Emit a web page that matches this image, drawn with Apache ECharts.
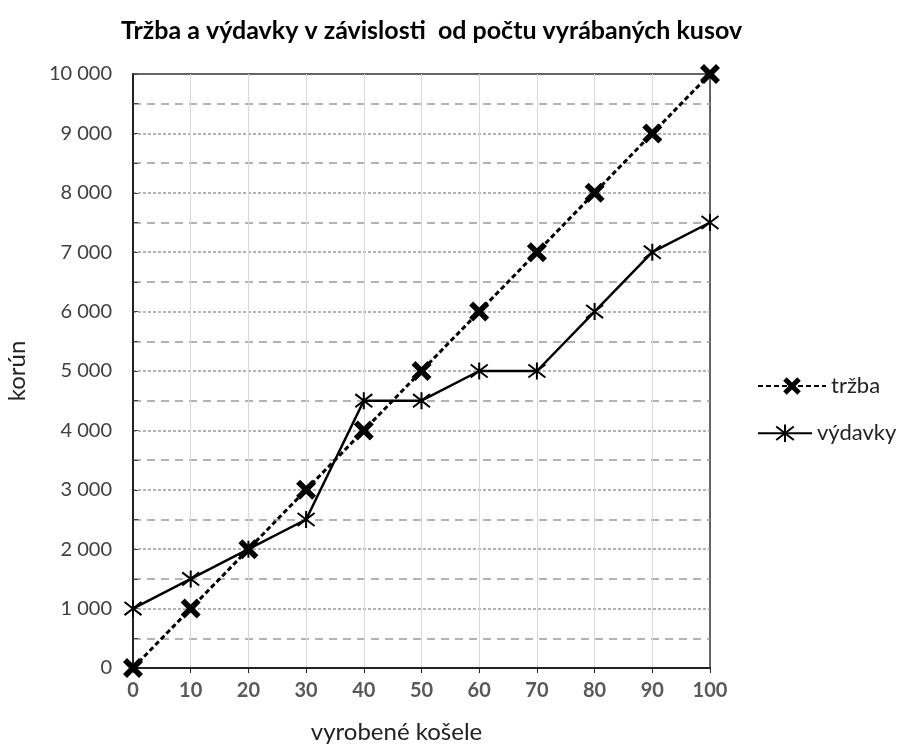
<!DOCTYPE html>
<html>
<head>
    <meta charset="utf-8">
    <script type="text/javascript" src="https://cdn.jsdelivr.net/npm/echarts@6/dist/echarts.min.js"></script>
    <style type="text/css">
        *{ margin: 0; padding: 0; }
        #main{ width: 897px; height: 744px; background: #fff; }
    </style>
</head>
<body>
<div id="main"></div>
<script type="text/javascript">
    // údaje z grafu
    var kusy = [0, 10, 20, 30, 40, 50, 60, 70, 80, 90, 100];
    var trzba = [0, 1000, 2000, 3000, 4000, 5000, 6000, 7000, 8000, 9000, 10000];
    var vydavky = [1000, 1500, 2000, 2500, 4500, 4500, 5000, 5000, 6000, 7000, 7500];

    function pary(ys) {
        return kusy.map(function (x, i) { return [x, ys[i]]; });
    }

    var hrubyKriz = 'path://M0,2L2,0L5,3L8,0L10,2L7,5L10,8L8,10L5,7L2,10L0,8L3,5Z';
    var hviezda = 'path://M0,0L10,10M10,0L0,10M5,-1.5L5,11.5';
    var pismo = 'Lato, "Open Sans", sans-serif';
    var legendaText = { fontSize: 22, color: '#222', fontFamily: pismo };

    var myChart = echarts.init(document.getElementById('main'));
    var option = {
        backgroundColor: '#ffffff',
        animation: false,
        textStyle: { fontFamily: pismo },
        title: {
            text: 'Tržba a výdavky v závislosti  od počtu vyrábaných kusov',
            left: 116,
            top: 13,
            textStyle: { fontSize: 25, fontWeight: 'bold', color: '#000', fontFamily: pismo }
        },
        grid: {
            left: 133, right: 187, top: 74, bottom: 76,
            outerBoundsMode: 'none',
            show: true,
            borderColor: '#333',
            borderWidth: 1.5
        },
        legend: [
            {
                left: 752, top: 370,
                itemWidth: 68, itemHeight: 22,
                textStyle: legendaText,
                data: ['tržba']
            },
            {
                left: 752, top: 417,
                itemWidth: 54, itemHeight: 22,
                textStyle: legendaText,
                data: ['výdavky']
            }
        ],
        xAxis: {
            type: 'value',
            min: 0, max: 100, interval: 10,
            name: 'vyrobené košele',
            nameLocation: 'middle',
            nameGap: 52,
            nameTextStyle: { fontSize: 24, color: '#222', padding: [0, 50, 0, 0] },
            axisLine: { show: true, lineStyle: { color: '#222', width: 2 } },
            axisTick: { show: true, length: 5, lineStyle: { color: '#222' } },
            axisLabel: { fontSize: 20, fontWeight: 'bold', color: '#595959', margin: 13 },
            splitLine: { show: true, showMaxLine: false, lineStyle: { color: '#d9d9d9', width: 1 } }
        },
        yAxis: {
            type: 'value',
            min: 0, max: 10000, interval: 1000,
            name: 'korún',
            nameLocation: 'middle',
            nameGap: 104,
            nameRotate: 90,
            nameTextStyle: { fontSize: 24, color: '#222' },
            axisLine: { show: true, lineStyle: { color: '#222', width: 2 } },
            axisTick: { show: true, inside: true, length: 5, lineStyle: { color: '#444' } },
            minorTick: { show: true, splitNumber: 2, length: 5, lineStyle: { color: '#444' } },
            axisLabel: {
                fontSize: 20, color: '#404040', margin: 21,
                formatter: function (v) { return String(v).replace(/\B(?=(\d{3})+(?!\d))/g, ' '); }
            },
            splitLine: { show: true, showMaxLine: false, lineStyle: { color: '#9a9a9a', width: 1.5, type: [3, 2] } },
            minorSplitLine: { show: true, lineStyle: { color: '#9a9a9a', width: 1.5, type: [8, 6] } }
        },
        series: [
            {
                name: 'tržba',
                type: 'line',
                data: pary(trzba),
                symbol: hrubyKriz,
                symbolSize: 20,
                z: 3,
                lineStyle: { color: '#000', width: 3, type: [5, 3] },
                itemStyle: { color: '#000' }
            },
            {
                name: 'výdavky',
                type: 'line',
                data: pary(vydavky),
                symbol: hviezda,
                symbolSize: [17, 17],
                z: 4,
                lineStyle: { color: '#000', width: 2.5 },
                itemStyle: { color: 'none', borderColor: '#000', borderWidth: 2 }
            }
        ]
    };
    myChart.setOption(option);
</script>
</body>
</html>
